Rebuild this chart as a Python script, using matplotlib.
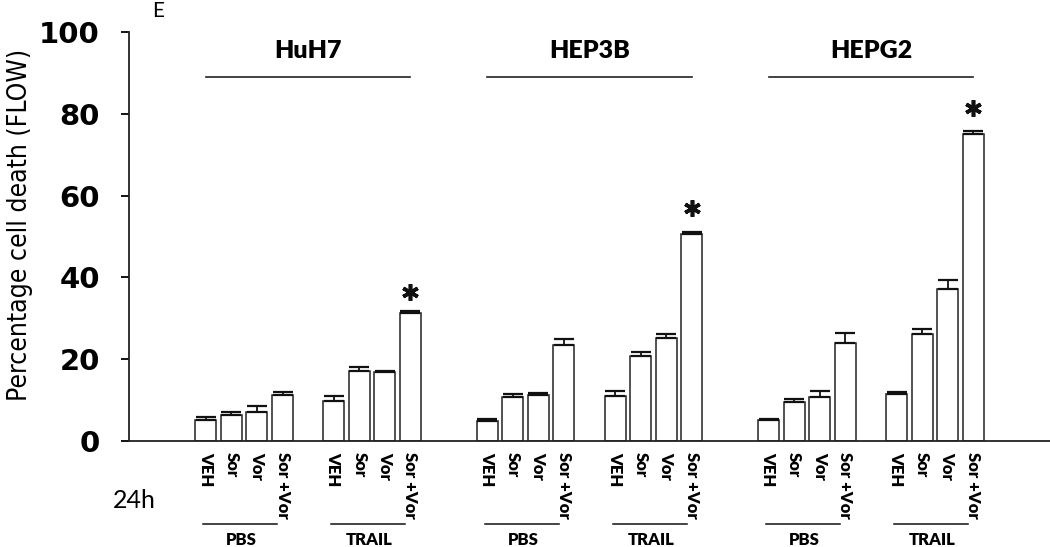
import numpy as np
import matplotlib.pyplot as plt

# cell lines and treatments
cell_lines = ['HuH7', 'HEP3B', 'HEPG2']
treatments = ['VEH', 'Sor', 'Vor', 'Sor +Vor']
conditions = ['PBS', 'TRAIL']

# mean % cell death, order: PBS(VEH,Sor,Vor,Sor+Vor), TRAIL(VEH,Sor,Vor,Sor+Vor)
huh7_vals = [5.2, 6.4, 7.2, 11.2, 9.9, 17.1, 16.9, 31.3]
hep3b_vals = [4.8, 10.8, 11.2, 23.4, 11.1, 20.9, 25.3, 50.7]
hepg2_vals = [5.1, 9.6, 10.7, 24.0, 11.6, 26.1, 37.1, 75.1]

huh7_err = [0.7, 0.6, 1.3, 0.9, 1.2, 1.1, 0.3, 0.5]
hep3b_err = [0.7, 0.8, 0.6, 1.5, 1.2, 0.9, 0.9, 0.5]
hepg2_err = [0.4, 0.6, 1.5, 2.3, 0.5, 1.4, 2.3, 0.6]

# significance stars (y position of the asterisk)
star_y = [36.5, 57.0, 81.3]

values = [huh7_vals, hep3b_vals, hepg2_vals]
errors = [huh7_err, hep3b_err, hepg2_err]

fig = plt.figure(figsize=(10.5, 5.47), dpi=100)
ax = fig.add_axes([129 / 1050, 1 - 441 / 547, 1 - 129 / 1050, (441 - 32) / 547])

lab_font = ['Lato', 'DejaVu Sans']

for g, name in enumerate(cell_lines):
    base = 3 + g * 11
    pos = np.array([base + i for i in range(4)] + [base + 5 + i for i in range(4)])
    vals = np.array(values[g])
    err = np.array(errors[g])
    ax.bar(pos, vals, width=0.82, color='white', edgecolor='#222222', linewidth=1.1, zorder=2)
    ax.errorbar(pos, vals, yerr=[np.zeros_like(err), err], fmt='none', ecolor='#111111',
                elinewidth=1.3, capsize=7, capthick=1.6, zorder=3)

    # star over the combination bar
    ax.plot(pos[-1], star_y[g], marker=(6, 2, 0), ms=12, mew=2.6, color='#111111',
            clip_on=False, zorder=4)

    # cell line title with line underneath
    ax.plot([pos[0], pos[-1]], [89, 89], color='#222222', lw=1.2, clip_on=False)
    ax.text((pos[0] + pos[-1]) / 2, 95.3, name, ha='center', va='center', fontsize=18,
            fontweight='heavy', family=lab_font)

    # rotated treatment labels
    for i, p in enumerate(pos):
        ax.text(p, -0.027, treatments[i % 4], transform=ax.get_xaxis_transform(),
                rotation=-90, ha='center', va='top', fontsize=12, fontweight='heavy',
                family=lab_font)

    # PBS / TRAIL brackets
    for c in range(2):
        p = pos[c * 4:(c + 1) * 4]
        ax.plot([p[0] - 0.1, p[-1] - 0.2], [-0.203, -0.203], transform=ax.get_xaxis_transform(),
                color='#111111', lw=1.1, clip_on=False)
        ax.text((p[0] + p[-1]) / 2 - 0.1, -0.243, conditions[c], transform=ax.get_xaxis_transform(),
                ha='center', va='center', fontsize=12, fontweight='heavy', family=lab_font)

ax.set_xlim(0, 36)
ax.set_ylim(0, 100)
ax.set_yticks([0, 20, 40, 60, 80, 100])
ax.set_xticks([])
ax.spines['top'].set_visible(False)
ax.spines['right'].set_visible(False)
ax.spines['left'].set_linewidth(1.3)
ax.spines['bottom'].set_linewidth(1.3)
ax.spines['left'].set_color('#222222')
ax.spines['bottom'].set_color('#222222')
ax.tick_params(axis='y', direction='out', length=6, width=1.3, pad=15)
for t in ax.get_yticklabels():
    t.set_fontsize(21)
    t.set_fontweight('heavy')
    t.set_family('DejaVu Sans')

fig.text(20 / 1050, 1 - 225 / 547, 'Percentage cell death (FLOW)', rotation=90,
         ha='center', va='center', fontsize=19, fontstretch='condensed',
         family=['DejaVu Sans'])
fig.text(134 / 1050, 1 - 501 / 547, '24h', ha='center', va='center', fontsize=18, family=lab_font)
fig.text(158 / 1050, 1 - 11 / 547, 'E', ha='center', va='center', fontsize=15, family=lab_font)

fig.savefig('out.png', dpi=100)
